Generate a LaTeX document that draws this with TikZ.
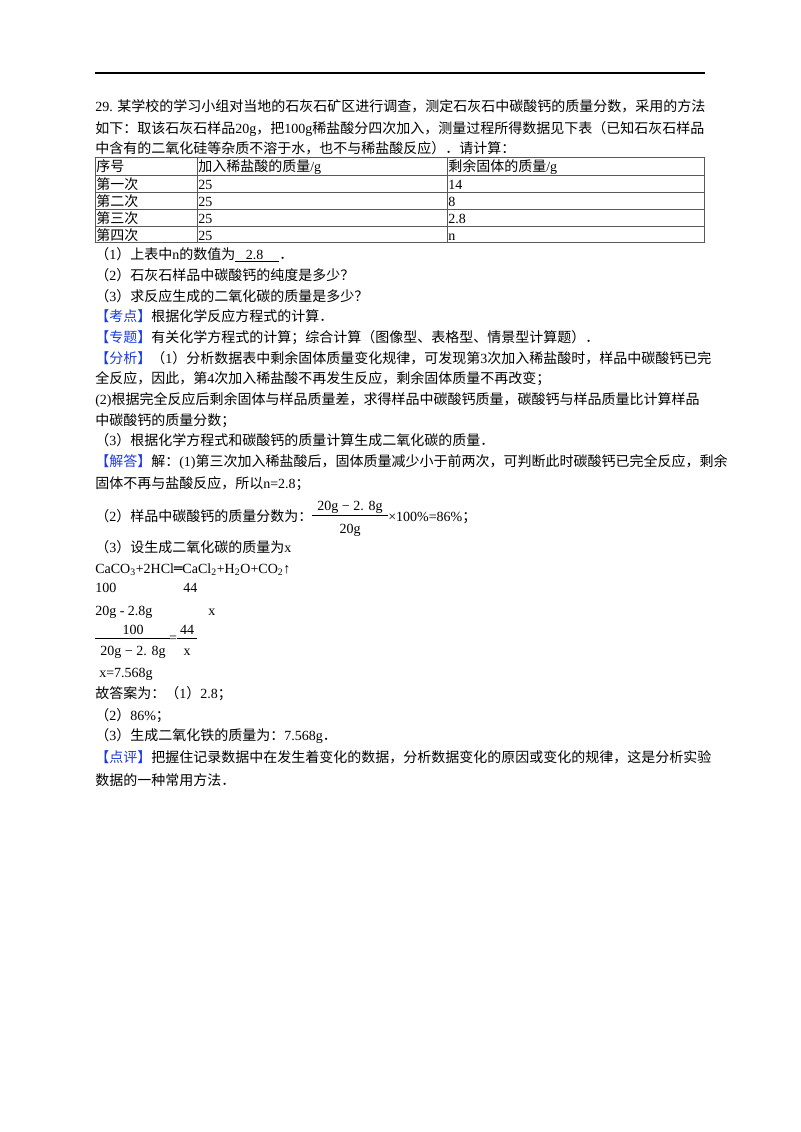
\documentclass[tikz,border=0pt]{standalone}
\usepackage{fontspec}
\setmainfont{Liberation Serif}
\newfontfamily\latin{Liberation Serif}
\newfontfamily\cjk{Noto Sans CJK SC}
\newfontfamily\djv{DejaVu Serif}
\XeTeXinterchartokenstate=1
\newXeTeXintercharclass\cjkclass
\newcount\cc
\cc="3000 \loop\ifnum\cc<"3040 \XeTeXcharclass\cc=\cjkclass \advance\cc by 1 \repeat
\cc="4E00 \loop\ifnum\cc<"A000 \XeTeXcharclass\cc=\cjkclass \advance\cc by 1 \repeat
\cc="FF00 \loop\ifnum\cc<"FFF0 \XeTeXcharclass\cc=\cjkclass \advance\cc by 1 \repeat
\XeTeXinterchartoks 0 \cjkclass={\cjk}
\XeTeXinterchartoks 4095 \cjkclass={\cjk}
\XeTeXinterchartoks \cjkclass 0={\latin}
\XeTeXinterchartoks \cjkclass 4095={\latin}
\definecolor{lbl}{RGB}{30,60,220}
\begin{document}
\begin{tikzpicture}[x=0.75pt,y=-0.75pt,
  ln/.style={anchor=base west,inner sep=0pt,font=\fontsize{10.5}{12}\selectfont},
  cell/.style={anchor=base west,inner sep=0pt,font=\fontsize{10.5}{12}\selectfont},
  frac/.style={anchor=base,inner sep=0pt,font=\fontsize{10.5}{12}\selectfont}]
\useasboundingbox[fill=white] (0,0) rectangle (800,1132);
\draw[line width=1.1pt] (95,73) -- (705,73);
\node[ln] (l1) at (95,111) {29. 某学校的学习小组对当地的石灰石矿区进行调查，测定石灰石中碳酸钙的质量分数，采用的方法};
\node[ln] (l2) at (95,133) {如下：取该石灰石样品20g，把100g稀盐酸分四次加入，测量过程所得数据见下表（已知石灰石样品};
\node[ln] (l3) at (95,153) {中含有的二氧化硅等杂质不溶于水，也不与稀盐酸反应）．请计算：};
% table
\draw[line width=0.4pt,gray!70!black] (95,157) rectangle (704,242);
\foreach \yy in {175,192,209,226} \draw[line width=0.4pt,gray!70!black] (95,\yy) -- (704,\yy);
\foreach \xx in {197,447} \draw[line width=0.4pt,gray!70!black] (\xx,157) -- (\xx,242);
\node[cell] (t11) at (96,171) {序号};
\node[cell] (t12) at (198,171) {加入稀盐酸的质量/g};
\node[cell] (t13) at (448,171) {剩余固体的质量/g};
\node[cell] (t21) at (96,189) {第一次};
\node[cell] (t22) at (198,189) {25};
\node[cell] (t23) at (448,189) {14};
\node[cell] (t31) at (96,206) {第二次};
\node[cell] (t32) at (198,206) {25};
\node[cell] (t33) at (448,206) {8};
\node[cell] (t41) at (96,223) {第三次};
\node[cell] (t42) at (198,223) {25};
\node[cell] (t43) at (448,223) {2.8};
\node[cell] (t51) at (96,240) {第四次};
\node[cell] (t52) at (198,240) {25};
\node[cell] (t53) at (448,240) {n};
\node[ln] (q1) at (95,259) {（1）上表中n的数值为\underline{\hspace{8pt}2.8\hspace{12pt}}．};
\node[ln] (q2) at (95,280) {（2）石灰石样品中碳酸钙的纯度是多少？};
\node[ln] (q3) at (95,301) {（3）求反应生成的二氧化碳的质量是多少？};
\node[ln] (kd) at (95,321) {{\color{lbl}【考点】}根据化学反应方程式的计算．};
\node[ln] (zt) at (95,342) {{\color{lbl}【专题】}有关化学方程式的计算；综合计算（图像型、表格型、情景型计算题）．};
\node[ln] (fx1) at (95,363) {{\color{lbl}【分析】}（1）分析数据表中剩余固体质量变化规律，可发现第3次加入稀盐酸时，样品中碳酸钙已完};
\node[ln] (fx2) at (95,383) {全反应，因此，第4次加入稀盐酸不再发生反应，剩余固体质量不再改变；};
\node[ln] (fx3) at (95,404) {(2)根据完全反应后剩余固体与样品质量差，求得样品中碳酸钙质量，碳酸钙与样品质量比计算样品};
\node[ln] (fx4) at (95,425) {中碳酸钙的质量分数；};
\node[ln] (fx5) at (95,445) {（3）根据化学方程式和碳酸钙的质量计算生成二氧化碳的质量．};
\node[ln] (jd1) at (95,466) {{\color{lbl}【解答】}解：(1)第三次加入稀盐酸后，固体质量减少小于前两次，可判断此时碳酸钙已完全反应，剩余};
\node[ln] (jd2) at (95,488) {固体不再与盐酸反应，所以n=2.8；};
\node[ln] (jd3) at (95,521) {（2）样品中碳酸钙的质量分数为：};
\node[frac] (f1n) at (350,510) {20g − 2. 8g};
\node[frac] (f1d) at (350,533) {20g};
\coordinate (f1a) at (312,515);
\coordinate (f1b) at (388,515);
\draw[line width=0.5pt] (f1a) -- (f1b);
\node[ln] (jd3b) at (388,521) {×100\%=86\%；};
\node[ln] (jd4) at (95,552) {（3）设生成二氧化碳的质量为x};
\node[ln] (eq) at (95,573) {CaCO\textsubscript{3}+2HCl{\djv ═}CaCl\textsubscript{2}+H\textsubscript{2}O+CO\textsubscript{2}↑};
\node[ln] (m1) at (95,592) {100};
\node[ln] (m2) at (183,592) {44};
\node[ln] (m3) at (95,615) {20g - 2.8g};
\node[ln] (m4) at (208,615) {x};
\node[frac] (f2n) at (133,634) {100};
\node[frac] (f2d) at (133,655) {20g − 2. 8g};
\coordinate (f2a) at (95,638);
\coordinate (f2b) at (170,638);
\draw[line width=0.5pt] (f2a) -- (f2b);
\node[frac] (eqs) at (173,642) {=};
\node[frac] (f3n) at (187,634) {44};
\node[frac] (f3d) at (187,655) {x};
\coordinate (f3a) at (177,638);
\coordinate (f3b) at (197,638);
\draw[line width=0.5pt] (f3a) -- (f3b);
\node[ln] (xr) at (99,677) {x=7.568g};
\node[ln] (da1) at (95,698) {故答案为：（1）2.8；};
\node[ln] (da2) at (95,720) {（2）86\%；};
\node[ln] (da3) at (95,740) {（3）生成二氧化铁的质量为：7.568g．};
\node[ln] (dp1) at (95,762) {{\color{lbl}【点评】}把握住记录数据中在发生着变化的数据，分析数据变化的原因或变化的规律，这是分析实验};
\node[ln] (dp2) at (95,785) {数据的一种常用方法．};
\end{tikzpicture}
\end{document}
